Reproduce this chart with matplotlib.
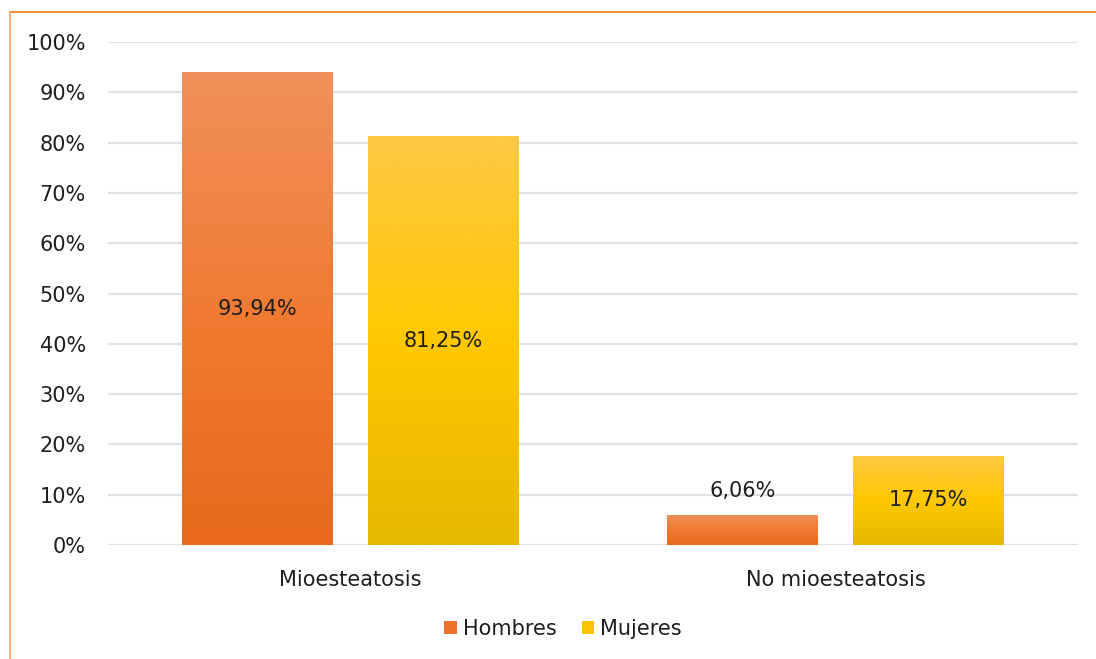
import numpy as np
import matplotlib
matplotlib.use("Agg")
import matplotlib.pyplot as plt
from matplotlib.colors import LinearSegmentedColormap
from matplotlib.patches import Rectangle
from matplotlib.lines import Line2D

categories = ["Mioesteatosis", "No mioesteatosis"]
series_names = ["Hombres", "Mujeres"]
hombres = [93.94, 6.06]
mujeres = [81.25, 17.75]
yticks = [0, 10, 20, 30, 40, 50, 60, 70, 80, 90, 100]

plt.rcParams['font.family'] = ['DejaVu Sans']

W, H = 1096, 659
fig = plt.figure(figsize=(W / 100, H / 100), dpi=100)
ax = fig.add_axes([108 / W, 1 - 545 / H, (1078 - 108) / W, (545 - 42) / H])

grads = {
    "Hombres": ["#E8691C", "#F17B33", "#F0905A"],
    "Mujeres": ["#E6B800", "#FFC800", "#FFC846"],
}
solid = {"Hombres": "#ED7128", "Mujeres": "#FDC307"}

x = np.arange(len(categories))
width = 0.311
offset = 0.1915

ax.set_xlim(-0.5, len(categories) - 0.5)
ax.set_ylim(0, 100)

fs = 15
text_color = "#1E1E1E"
for name, vals, sgn in [("Hombres", hombres, -1), ("Mujeres", mujeres, 1)]:
    cmap = LinearSegmentedColormap.from_list(name, grads[name])
    grad = np.linspace(0, 1, 256).reshape(-1, 1)
    bars = ax.bar(x + sgn * offset, vals, width, color="none", edgecolor="none", zorder=3)
    for b in bars:
        bx, by, bw, bh = b.get_x(), b.get_y(), b.get_width(), b.get_height()
        im = ax.imshow(grad, cmap=cmap, origin="lower", aspect="auto",
                       extent=[bx, bx + bw, by, by + bh], zorder=3)
        im.set_clip_path(b)
    ax.set_xlim(-0.5, len(categories) - 0.5)
    ax.set_ylim(0, 100)
    for xi, v in zip(x + sgn * offset, vals):
        lbl = f"{v:.2f}".replace(".", ",") + "%"
        if v < 10:
            ax.text(xi, v + 4.6, lbl, ha="center", va="center", fontsize=fs,
                    color=text_color, zorder=5)
        else:
            ax.text(xi, v / 2, lbl, ha="center", va="center", fontsize=fs,
                    color=text_color, zorder=5)

ax.set_yticks(yticks)
ax.set_yticklabels([f"{t}%" for t in yticks], fontsize=fs, color=text_color)
ax.set_xticks(x)
ax.set_xticklabels(categories, fontsize=fs, color=text_color)
ax.tick_params(axis="both", length=0)
ax.tick_params(axis="y", pad=16)
ax.tick_params(axis="x", pad=18)
ax.yaxis.grid(True, color="#DDE1E8", linewidth=1.6, zorder=0)
ax.set_axisbelow(True)
for s in ax.spines.values():
    s.set_visible(False)

handles = [Rectangle((0, 0), 1, 1, facecolor=solid[n]) for n in series_names]
fig.legend(handles, series_names, loc="center", bbox_to_anchor=(563 / W, 1 - 629 / H),
           ncol=2, frameon=False, fontsize=fs, handlelength=0.6, handleheight=0.6,
           handletextpad=0.3, columnspacing=1.2, labelcolor=text_color)

border = "#F07F2A"
fig.add_artist(Line2D([9.5 / W, 1.0], [1 - 12 / H, 1 - 12 / H], color=border, lw=1.3,
                      transform=fig.transFigure))
fig.add_artist(Line2D([9.5 / W, 9.5 / W], [0, 1 - 12 / H], color="#F5A673", lw=1.3,
                      transform=fig.transFigure))

fig.savefig("out.png", dpi=100, facecolor="white")
